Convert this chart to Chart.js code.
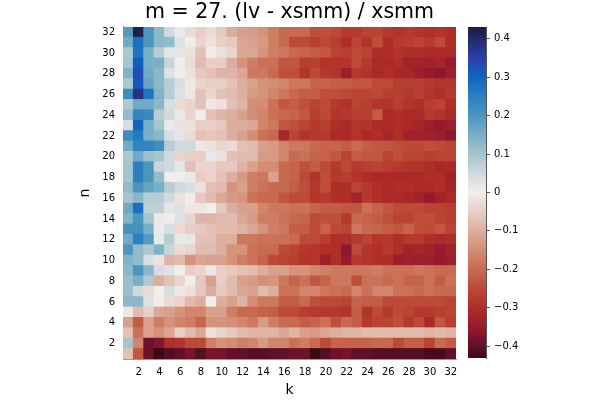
<!DOCTYPE html>
<html>
<head>
<meta charset="utf-8">
<script src="https://cdn.jsdelivr.net/npm/chart.js@4.4.1/dist/chart.umd.min.js"></script>
<style>
  html, body { margin: 0; padding: 0; background: #fff; }
  #wrap { position: relative; width: 600px; height: 400px; }
  #wrap canvas { position: absolute; left: 0; top: 0; }
</style>
</head>
<body>
<div id="wrap">
  <canvas id="heat" width="600" height="400"></canvas>
  <canvas id="cbar" width="600" height="400"></canvas>
</div>
<script>
// (lv - xsmm) / xsmm, une ligne par n (n1 = ligne du bas), colonnes k = 1..32
const n1  = [-0.07,-0.23,-0.39,-0.43,-0.41,-0.40,-0.38,-0.41,-0.38,-0.38,-0.40,-0.40,-0.41,-0.41,-0.40,-0.40,-0.39,-0.39,-0.43,-0.41,-0.39,-0.38,-0.40,-0.40,-0.41,-0.41,-0.41,-0.41,-0.41,-0.42,-0.42,-0.40];
const n2  = [0.10,-0.16,-0.39,-0.37,-0.30,-0.29,-0.25,-0.25,-0.17,-0.14,-0.15,-0.17,-0.16,-0.13,-0.16,-0.16,-0.19,-0.17,-0.20,-0.25,-0.21,-0.21,-0.21,-0.21,-0.20,-0.20,-0.25,-0.22,-0.22,-0.26,-0.20,-0.22];
const n3  = [-0.07,-0.19,-0.12,-0.14,-0.11,-0.05,-0.08,-0.11,-0.02,-0.04,-0.06,-0.08,-0.09,-0.09,-0.09,-0.11,-0.09,-0.12,-0.13,-0.11,-0.10,-0.09,-0.09,-0.08,-0.08,-0.08,-0.08,-0.08,-0.08,-0.09,-0.08,-0.09];
const n4  = [-0.12,-0.22,-0.12,-0.17,-0.14,-0.16,-0.17,-0.21,-0.14,-0.14,-0.15,-0.16,-0.18,-0.13,-0.17,-0.20,-0.20,-0.22,-0.21,-0.19,-0.24,-0.20,-0.22,-0.28,-0.26,-0.26,-0.24,-0.28,-0.25,-0.31,-0.23,-0.27];
const n5  = [0.01,-0.08,-0.05,-0.11,-0.12,-0.14,-0.16,-0.16,-0.12,-0.12,-0.17,-0.20,-0.20,-0.21,-0.22,-0.25,-0.25,-0.27,-0.28,-0.28,-0.28,-0.29,-0.22,-0.29,-0.25,-0.28,-0.25,-0.26,-0.28,-0.28,-0.27,-0.26];
const n6  = [0.13,0.13,0.03,0.00,-0.03,-0.04,-0.08,-0.10,0.00,-0.10,-0.12,-0.09,-0.15,-0.18,-0.18,-0.22,-0.22,-0.20,-0.24,-0.25,-0.25,-0.26,-0.21,-0.22,-0.22,-0.25,-0.25,-0.25,-0.25,-0.25,-0.25,-0.26];
const n7  = [0.11,0.05,-0.03,0.00,0.04,-0.01,-0.02,-0.06,-0.10,-0.06,-0.08,-0.11,-0.12,-0.08,-0.10,-0.19,-0.19,-0.16,-0.16,-0.18,-0.19,-0.20,-0.16,-0.19,-0.16,-0.16,-0.19,-0.19,-0.20,-0.19,-0.20,-0.20];
const n8  = [0.11,0.15,0.09,-0.10,-0.07,-0.04,0.00,-0.06,-0.12,-0.05,-0.08,-0.12,-0.13,-0.15,-0.14,-0.18,-0.21,-0.19,-0.23,-0.21,-0.18,-0.18,-0.24,-0.19,-0.19,-0.20,-0.19,-0.21,-0.21,-0.19,-0.22,-0.19];
const n9  = [0.13,0.20,0.13,0.04,0.03,0.00,-0.05,-0.04,-0.01,-0.05,-0.06,-0.07,-0.08,-0.10,-0.12,-0.12,-0.14,-0.14,-0.16,-0.17,-0.18,-0.18,-0.18,-0.18,-0.17,-0.19,-0.19,-0.19,-0.18,-0.19,-0.20,-0.20];
const n10 = [0.14,0.12,0.04,-0.02,-0.09,-0.08,-0.14,-0.11,-0.12,-0.12,-0.14,-0.17,-0.19,-0.21,-0.25,-0.26,-0.27,-0.29,-0.29,-0.34,-0.30,-0.35,-0.28,-0.29,-0.30,-0.30,-0.34,-0.33,-0.34,-0.34,-0.35,-0.34];
const n11 = [0.20,0.12,0.09,0.14,0.06,-0.03,-0.04,-0.08,-0.08,-0.10,-0.14,-0.14,-0.19,-0.20,-0.20,-0.25,-0.26,-0.28,-0.29,-0.30,-0.30,-0.36,-0.25,-0.29,-0.30,-0.28,-0.30,-0.33,-0.32,-0.33,-0.35,-0.33];
const n12 = [0.16,0.25,0.19,0.01,0.08,0.01,0.02,-0.07,-0.07,-0.10,-0.10,-0.18,-0.18,-0.19,-0.19,-0.19,-0.20,-0.25,-0.25,-0.27,-0.30,-0.30,-0.28,-0.26,-0.29,-0.28,-0.30,-0.28,-0.28,-0.30,-0.31,-0.30];
const n13 = [0.21,0.21,0.15,0.01,0.04,-0.03,-0.05,-0.06,-0.07,-0.08,-0.08,-0.09,-0.11,-0.14,-0.17,-0.18,-0.22,-0.22,-0.25,-0.21,-0.25,-0.26,-0.18,-0.20,-0.21,-0.22,-0.23,-0.21,-0.24,-0.25,-0.23,-0.26];
const n14 = [0.14,0.20,0.10,0.01,0.00,0.03,-0.04,-0.09,-0.09,-0.08,-0.08,-0.11,-0.13,-0.17,-0.17,-0.19,-0.20,-0.21,-0.25,-0.24,-0.24,-0.28,-0.20,-0.21,-0.22,-0.24,-0.26,-0.26,-0.24,-0.24,-0.26,-0.27];
const n15 = [0.16,0.28,0.07,0.07,0.02,0.03,-0.01,-0.01,0.00,-0.06,-0.10,-0.12,-0.12,-0.16,-0.18,-0.18,-0.19,-0.19,-0.21,-0.22,-0.22,-0.23,-0.23,-0.19,-0.21,-0.23,-0.25,-0.25,-0.25,-0.26,-0.26,-0.27];
const n16 = [0.10,0.13,0.08,0.08,0.05,-0.02,0.00,-0.06,-0.08,-0.11,-0.13,-0.14,-0.19,-0.20,-0.20,-0.23,-0.25,-0.25,-0.29,-0.28,-0.30,-0.30,-0.33,-0.28,-0.30,-0.31,-0.31,-0.32,-0.33,-0.35,-0.33,-0.31];
const n17 = [0.12,0.20,0.17,0.15,0.08,0.05,0.04,-0.02,-0.07,-0.08,-0.14,-0.12,-0.17,-0.19,-0.20,-0.20,-0.22,-0.24,-0.28,-0.24,-0.30,-0.30,-0.26,-0.28,-0.30,-0.31,-0.30,-0.30,-0.31,-0.31,-0.30,-0.32];
const n18 = [0.10,0.25,0.20,0.12,0.00,0.00,-0.01,-0.05,-0.04,-0.07,-0.10,-0.13,-0.17,-0.18,-0.12,-0.20,-0.21,-0.25,-0.29,-0.24,-0.28,-0.27,-0.29,-0.30,-0.31,-0.31,-0.31,-0.31,-0.31,-0.30,-0.30,-0.33];
const n19 = [0.10,0.25,0.20,0.06,0.05,0.02,-0.07,-0.04,-0.04,-0.06,-0.06,-0.09,-0.12,-0.15,-0.15,-0.20,-0.21,-0.24,-0.22,-0.25,-0.28,-0.25,-0.28,-0.27,-0.26,-0.27,-0.28,-0.29,-0.29,-0.30,-0.32,-0.31];
const n20 = [0.09,0.16,0.11,0.10,0.05,-0.04,-0.05,-0.05,0.01,-0.02,-0.07,-0.08,-0.08,-0.13,-0.13,-0.16,-0.20,-0.19,-0.21,-0.21,-0.23,-0.26,-0.22,-0.23,-0.23,-0.26,-0.24,-0.26,-0.26,-0.27,-0.26,-0.26];
const n21 = [0.16,0.24,0.24,0.22,0.08,0.05,0.05,-0.01,-0.02,-0.04,-0.03,-0.07,-0.08,-0.12,-0.13,-0.16,-0.18,-0.18,-0.20,-0.21,-0.21,-0.22,-0.20,-0.22,-0.23,-0.23,-0.24,-0.25,-0.25,-0.24,-0.25,-0.26];
const n22 = [0.22,0.26,0.15,0.13,0.04,0.02,-0.03,-0.07,-0.06,-0.07,-0.10,-0.12,-0.15,-0.19,-0.20,-0.32,-0.26,-0.29,-0.28,-0.28,-0.31,-0.31,-0.29,-0.31,-0.30,-0.32,-0.30,-0.33,-0.33,-0.33,-0.34,-0.36];
const n23 = [0.04,0.30,0.15,0.10,0.01,-0.02,-0.02,-0.05,-0.05,-0.06,-0.10,-0.10,-0.11,-0.16,-0.18,-0.23,-0.24,-0.26,-0.28,-0.27,-0.30,-0.31,-0.29,-0.29,-0.31,-0.31,-0.30,-0.31,-0.32,-0.34,-0.35,-0.34];
const n24 = [0.12,0.24,0.23,0.08,0.05,0.01,-0.04,0.00,-0.07,-0.09,-0.10,-0.12,-0.15,-0.16,-0.19,-0.20,-0.21,-0.23,-0.27,-0.25,-0.29,-0.28,-0.27,-0.27,-0.22,-0.31,-0.30,-0.31,-0.31,-0.28,-0.29,-0.31];
const n25 = [0.09,0.16,0.16,0.13,0.04,-0.03,-0.04,-0.07,-0.01,-0.02,-0.07,-0.09,-0.15,-0.15,-0.19,-0.23,-0.22,-0.24,-0.26,-0.25,-0.28,-0.29,-0.26,-0.27,-0.29,-0.29,-0.27,-0.29,-0.30,-0.27,-0.26,-0.30];
const n26 = [0.22,0.38,0.27,0.14,0.08,0.03,-0.01,-0.07,-0.04,-0.07,-0.08,-0.10,-0.13,-0.14,-0.16,-0.18,-0.20,-0.22,-0.22,-0.24,-0.24,-0.25,-0.26,-0.26,-0.25,-0.27,-0.27,-0.28,-0.27,-0.29,-0.30,-0.28];
const n27 = [0.09,0.32,0.17,0.13,0.08,0.04,-0.01,-0.04,-0.05,-0.05,-0.07,-0.10,-0.12,-0.14,-0.15,-0.16,-0.18,-0.18,-0.21,-0.21,-0.22,-0.22,-0.23,-0.23,-0.25,-0.25,-0.27,-0.27,-0.27,-0.28,-0.29,-0.29];
const n28 = [0.14,0.33,0.16,0.13,0.03,0.00,-0.02,-0.06,-0.07,-0.09,-0.09,-0.11,-0.18,-0.18,-0.20,-0.24,-0.24,-0.29,-0.25,-0.28,-0.29,-0.34,-0.28,-0.29,-0.31,-0.30,-0.32,-0.32,-0.34,-0.35,-0.36,-0.34];
const n29 = [0.10,0.31,0.15,0.15,0.06,0.00,-0.03,-0.08,-0.05,-0.05,-0.10,-0.14,-0.17,-0.19,-0.19,-0.23,-0.23,-0.27,-0.27,-0.29,-0.29,-0.29,-0.25,-0.28,-0.31,-0.31,-0.30,-0.33,-0.33,-0.33,-0.32,-0.35];
const n30 = [0.09,0.27,0.15,0.08,0.02,0.02,-0.02,-0.07,0.00,-0.02,-0.04,-0.11,-0.11,-0.14,-0.17,-0.18,-0.20,-0.21,-0.22,-0.23,-0.26,-0.27,-0.25,-0.26,-0.30,-0.30,-0.29,-0.30,-0.30,-0.31,-0.31,-0.31];
const n31 = [0.16,0.28,0.20,0.13,0.12,0.03,0.00,-0.04,-0.02,-0.05,-0.06,-0.11,-0.12,-0.13,-0.17,-0.20,-0.25,-0.25,-0.27,-0.25,-0.27,-0.30,-0.26,-0.29,-0.24,-0.30,-0.28,-0.27,-0.26,-0.28,-0.25,-0.30];
const n32 = [0.19,0.42,0.20,0.13,0.05,0.01,-0.03,-0.05,-0.03,-0.06,-0.10,-0.12,-0.13,-0.14,-0.17,-0.20,-0.20,-0.20,-0.24,-0.24,-0.25,-0.28,-0.28,-0.26,-0.26,-0.28,-0.29,-0.28,-0.29,-0.30,-0.29,-0.30];

const rows = [n1, n2, n3, n4, n5, n6, n7, n8, n9, n10, n11, n12, n13, n14, n15, n16,
              n17, n18, n19, n20, n21, n22, n23, n24, n25, n26, n27, n28, n29, n30, n31, n32];

const kLabels = Array.from({length: 32}, (_, i) => String(i + 1));
const nTicks = [2, 4, 6, 8, 10, 12, 14, 16, 18, 20, 22, 24, 26, 28, 30, 32];
const cbarTicks = [-0.4, -0.3, -0.2, -0.1, 0, 0.1, 0.2, 0.3, 0.4];
const cLim = 0.431;

// palette "balance" (cmocean), approchée par des paliers
const cmapStops = [
  [-0.431, [60, 9, 18]],
  [-0.40, [98, 16, 42]],
  [-0.35, [152, 26, 46]],
  [-0.30, [176, 46, 40]],
  [-0.25, [188, 74, 54]],
  [-0.20, [200, 106, 80]],
  [-0.15, [212, 140, 116]],
  [-0.10, [220, 174, 158]],
  [-0.05, [232, 206, 198]],
  [0.00, [241, 237, 236]],
  [0.05, [208, 218, 222]],
  [0.10, [164, 196, 206]],
  [0.15, [120, 176, 200]],
  [0.20, [76, 150, 190]],
  [0.25, [42, 128, 192]],
  [0.30, [16, 100, 192]],
  [0.35, [42, 64, 172]],
  [0.40, [34, 42, 104]],
  [0.431, [24, 28, 67]]
];

function balance(v) {
  if (v <= cmapStops[0][0]) return 'rgb(' + cmapStops[0][1].join(',') + ')';
  for (let i = 1; i < cmapStops.length; i++) {
    const [v1, c1] = cmapStops[i];
    if (v <= v1) {
      const [v0, c0] = cmapStops[i - 1];
      const t = (v - v0) / (v1 - v0);
      const c = c0.map((a, j) => Math.round(a + (c1[j] - a) * t));
      return 'rgb(' + c.join(',') + ')';
    }
  }
  return 'rgb(' + cmapStops[cmapStops.length - 1][1].join(',') + ')';
}

const FONT = 'DejaVu Sans';

// Une série par ligne n : barres flottantes de n-0.5 à n+0.5
const heatDatasets = rows.map((vals, i) => {
  const n = i + 1;
  return {
    label: 'n = ' + n,
    data: vals.map(() => [n - 0.5, n + 0.5]),
    backgroundColor: vals.map(balance),
    borderWidth: 0,
    inflateAmount: 0.5,
    grouped: false,
    categoryPercentage: 1,
    barPercentage: 1
  };
});

new Chart(document.getElementById('heat'), {
  type: 'bar',
  data: { labels: kLabels, datasets: heatDatasets },
  options: {
    responsive: false,
    animation: false,
    layout: { padding: { left: 73, right: 144, top: 0, bottom: 0 } },
    plugins: {
      legend: { display: false },
      tooltip: { enabled: false },
      title: {
        display: true,
        fullSize: false,
        text: 'm = 27. (lv - xsmm) / xsmm',
        color: '#000',
        font: { family: FONT, size: 20.5, weight: 'normal' },
        padding: { top: 0, bottom: 2.4 }
      }
    },
    scales: {
      x: {
        type: 'category',
        offset: true,
        grid: { display: false, drawTicks: false },
        border: { display: true, color: '#999', width: 1 },
        ticks: {
          color: '#000',
          font: { family: FONT, size: 10 },
          padding: 7,
          autoSkip: false,
          maxRotation: 0,
          callback: function (val, idx) {
            return (idx + 1) % 2 === 0 ? kLabels[idx] : '';
          }
        },
        title: {
          display: true, text: 'k', color: '#000',
          font: { family: FONT, size: 14 },
          padding: { top: 0, bottom: 1 }
        },
        afterFit: s => { s.height = 41; }
      },
      y: {
        type: 'linear',
        min: 0.5,
        max: 32.5,
        grid: { display: false, drawTicks: false },
        border: { display: true, color: '#999', width: 1 },
        afterBuildTicks: s => { s.ticks = nTicks.map(v => ({ value: v })); },
        ticks: {
          color: '#000',
          font: { family: FONT, size: 10 },
          padding: 8,
          callback: v => String(v)
        },
        title: {
          display: true, text: 'n', color: '#000',
          font: { family: FONT, size: 14 },
          padding: { top: 4, bottom: 0 }
        },
        afterFit: s => { s.width = 50; }
      }
    }
  }
});

// Barre de couleur : dégradé peint dans la zone du graphique
const gradientBar = {
  id: 'gradientBar',
  beforeDatasetsDraw(chart) {
    const { ctx, chartArea } = chart;
    const y = chart.scales.y;
    const grad = ctx.createLinearGradient(0, y.getPixelForValue(-cLim), 0, y.getPixelForValue(cLim));
    cmapStops.forEach(([v, c]) => {
      grad.addColorStop((v + cLim) / (2 * cLim), 'rgb(' + c.join(',') + ')');
    });
    ctx.save();
    ctx.fillStyle = grad;
    ctx.fillRect(chartArea.left, chartArea.top, chartArea.right - chartArea.left, chartArea.bottom - chartArea.top);
    ctx.restore();
  }
};

new Chart(document.getElementById('cbar'), {
  type: 'bar',
  data: { labels: [''], datasets: [{ data: [null] }] },
  plugins: [gradientBar],
  options: {
    responsive: false,
    animation: false,
    layout: { padding: { left: 468, right: 0, top: 27, bottom: 42 } },
    plugins: { legend: { display: false }, tooltip: { enabled: false } },
    scales: {
      x: { display: false },
      y: {
        position: 'right',
        min: -cLim,
        max: cLim,
        afterBuildTicks: s => { s.ticks = cbarTicks.map(v => ({ value: v })); },
        grid: { drawOnChartArea: false, drawTicks: true, tickLength: 4, color: '#555' },
        border: { display: true, color: '#555', width: 1 },
        ticks: {
          color: '#000',
          font: { family: FONT, size: 10 },
          padding: 4,
          callback: v => {
            if (Math.abs(v) < 1e-9) return '0';
            return v < 0 ? '\u2212' + Math.abs(v).toFixed(1) : v.toFixed(1);
          }
        },
        afterFit: s => { s.width = 114; }
      }
    }
  }
});
</script>
</body>
</html>
